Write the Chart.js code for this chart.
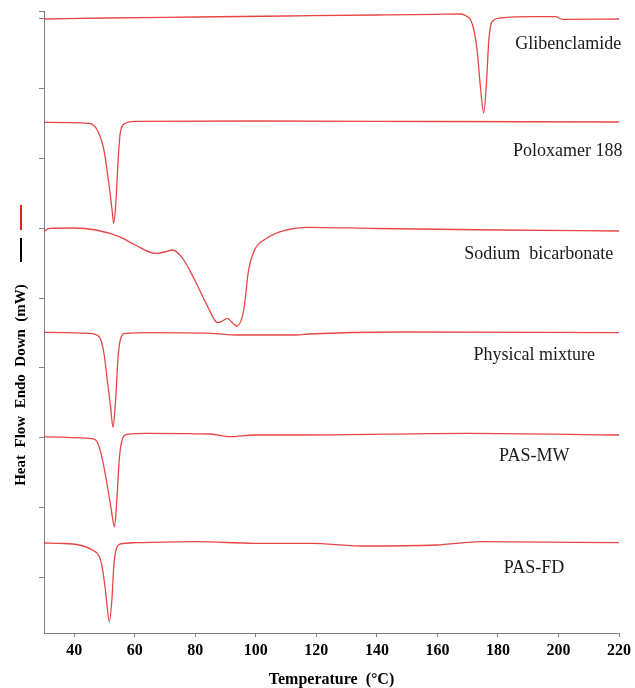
<!DOCTYPE html>
<html>
<head>
<meta charset="utf-8">
<script src="https://cdn.jsdelivr.net/npm/chart.js@4.4.0/dist/chart.umd.min.js"></script>
<style>
  html, body { margin: 0; padding: 0; background: #fff; }
  canvas { display: block; }
</style>
</head>
<body>
<canvas id="dsc-chart" width="635" height="688"></canvas>
<script>
// DSC thermograms, [temperature °C, stacked heat flow (a.u., endo down)]
const glibenclamide = [
  [30, 614], [50, 615], [80, 616], [110, 617], [140, 618], [160, 618.7],
  [167.7, 619], [169.5, 617], [171, 613], [172.2, 601], [173.1, 583], [174.4, 540],
  [175.3, 520], [176.2, 550], [177, 593], [178, 611], [180.8, 615], [191.6, 616.3],
  [199.1, 616.3], [200.5, 614.5], [201.4, 613.7], [220, 614],
];
const poloxamer188 = [
  [30, 510.7], [44.9, 509.7], [47.6, 503], [49.8, 483], [51.4, 450], [52.5, 423],
  [53.05, 409.7], [53.8, 433], [54.5, 473], [55.2, 500], [56.9, 509.7], [60.1, 511.7],
  [100, 512], [160, 511.5], [220, 511],
];
const sodiumBicarbonate = [
  [30, 401.3], [31.8, 404.7], [40, 405], [47.2, 403], [54.8, 396.3], [60.2, 388],
  [66.7, 379.7], [70, 381], [72.2, 383], [75.4, 376.3], [79.8, 353], [84.1, 326.3],
  [87.4, 310.3], [89, 312], [90.6, 314.7], [92, 311], [93.7, 307], [96, 323],
  [97.6, 363], [99.3, 381.3], [103.6, 394.7], [110, 403], [116.5, 405.7], [140, 404.5],
  [180, 403], [220, 402],
];
const physicalMixture = [
  [30, 300.7], [44.9, 299.7], [48.2, 296.3], [49.8, 280], [50.9, 253], [52, 226.3],
  [52.8, 205.7], [53.6, 230], [54.5, 276.3], [55.2, 293], [56.9, 299.7], [64.5, 300.3],
  [85, 299.7], [93.8, 298], [113.4, 298], [117.6, 299], [148.2, 301], [220, 300.3],
];
const pasMW = [
  [30, 196.3], [44.9, 194.7], [47.1, 193], [48.7, 181.3], [50.3, 158], [52, 128],
  [53.3, 106.3], [54.1, 134.7], [54.9, 174.7], [55.8, 193], [57.4, 198.7], [64.5, 199.7],
  [85, 199], [91.5, 196.3], [99.3, 198], [115, 198], [170, 199.7], [220, 198],
];
const pasFD = [
  [30, 90], [35.1, 89.7], [41.6, 88], [46, 83], [48.2, 77], [49.2, 66.3],
  [50.3, 43], [51.6, 11.3], [52.5, 36.3], [53.05, 66.3], [53.8, 83], [55.2, 89],
  [60.1, 90.3], [80.8, 91.3], [99.3, 89.7], [118.3, 89.7], [134.6, 87], [159.6, 88],
  [174.8, 91.3], [220, 90.3],
];

const sampleNames = ["Glibenclamide", "Poloxamer 188", "Sodium  bicarbonate", "Physical mixture", "PAS-MW", "PAS-FD"];
const curves = [glibenclamide, poloxamer188, sodiumBicarbonate, physicalMixture, pasMW, pasFD];
// where each name sits: [temperature, heat flow]
const nameAnchors = [[203.2, 588.7], [203.1, 481.3], [193.5, 379], [192, 278], [192, 176.3], [191.9, 64.7]];

const xTicks = [40, 60, 80, 100, 120, 140, 160, 180, 200, 220];
const yTicks = [56, 125.75, 195.5, 265.25, 335, 404.75, 474.5, 544.25, 614, 622];

const serif = "'Times New Roman', 'Liberation Serif', serif";
const axisGray = "#808080";

const curveLabels = {
  id: "curveLabels",
  afterDatasetsDraw(chart) {
    const { ctx, scales: { x, y } } = chart;
    ctx.save();
    ctx.fillStyle = "#1a1a1a";
    ctx.font = "18px " + serif;
    ctx.textAlign = "center";
    ctx.textBaseline = "middle";
    sampleNames.forEach((name, i) => {
      const [t, h] = nameAnchors[i];
      ctx.fillText(name, x.getPixelForValue(t), y.getPixelForValue(h));
    });

    // y axis title with the little series keys above it
    ctx.lineWidth = 2;
    ctx.strokeStyle = "#e41e1e";
    ctx.beginPath();
    ctx.moveTo(21, 205);
    ctx.lineTo(21, 230);
    ctx.stroke();
    ctx.strokeStyle = "#000";
    ctx.beginPath();
    ctx.moveTo(21, 238);
    ctx.lineTo(21, 262);
    ctx.stroke();

    ctx.translate(21, 385);
    ctx.rotate(-Math.PI / 2);
    ctx.fillStyle = "#000";
    ctx.font = "bold 15px " + serif;
    ctx.fillText("Heat  Flow  Endo  Down  (mW)", 0, 0);
    ctx.restore();
  },
};

new Chart(document.getElementById("dsc-chart"), {
  type: "line",
  data: {
    datasets: curves.map((c, i) => ({
      label: sampleNames[i],
      data: c.map(([t, h]) => ({ x: t, y: h })),
      borderColor: "rgb(232, 70, 70)",
      borderWidth: 1.3,
      pointRadius: 0,
      cubicInterpolationMode: "monotone",
      fill: false,
    })),
  },
  options: {
    responsive: false,
    animation: false,
    devicePixelRatio: 1,
    layout: { padding: { top: 11, right: 16, left: 0, bottom: 0 } },
    plugins: {
      legend: { display: false },
      tooltip: { enabled: false },
    },
    scales: {
      x: {
        type: "linear",
        min: 30,
        max: 220,
        afterBuildTicks: (s) => { s.ticks = xTicks.map((v) => ({ value: v })); },
        afterFit: (s) => { s.height = 55; },
        border: { color: axisGray },
        grid: { drawOnChartArea: false, tickLength: 4, color: axisGray },
        ticks: {
          color: "#000",
          padding: 4,
          maxRotation: 0,
          autoSkip: false,
          font: { family: serif, size: 16, weight: "bold" },
        },
        title: {
          display: true,
          text: "Temperature  (°C)",
          color: "#000",
          padding: 0,
          font: { family: serif, size: 16, weight: "bold", lineHeight: 1 },
        },
      },
      y: {
        min: 0,
        max: 622,
        afterBuildTicks: (s) => { s.ticks = yTicks.map((v) => ({ value: v })); },
        afterFit: (s) => { s.width = 44; },
        border: { color: axisGray },
        grid: { drawOnChartArea: false, tickLength: 5, color: axisGray },
        ticks: { display: false },
      },
    },
  },
  plugins: [curveLabels],
});
</script>
</body>
</html>
